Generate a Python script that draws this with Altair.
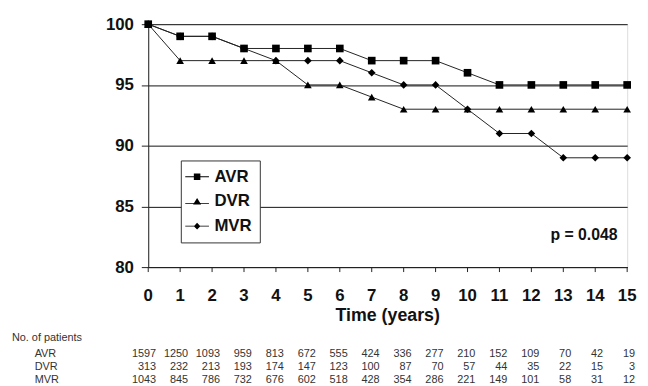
import altair as alt
import pandas as pd

years = list(range(16))
avr = [100, 99, 99, 98, 98, 98, 98, 97, 97, 97, 96, 95, 95, 95, 95, 95]
dvr = [100, 97, 97, 97, 97, 95, 95, 94, 93, 93, 93, 93, 93, 93, 93, 93]
mvr = [100, 99, 99, 98, 97, 97, 97, 96, 95, 95, 93, 91, 91, 89, 89, 89]
groups = ["AVR", "DVR", "MVR"]

n_avr = [1597, 1250, 1093, 959, 813, 672, 555, 424, 336, 277, 210, 152, 109, 70, 42, 19]
n_dvr = [313, 232, 213, 193, 174, 147, 123, 100, 87, 70, 57, 44, 35, 22, 15, 3]
n_mvr = [1043, 845, 786, 732, 676, 602, 518, 428, 354, 286, 221, 149, 101, 58, 31, 12]

p_text = ["p = 0.048"]
p_x = [14.7]
p_y = [82.6]
x_title = ["Time (years)"]

rows = []
for g, vals in zip(groups, [avr, dvr, mvr]):
    for t, v in zip(years, vals):
        rows.append({"year": t, "pct": v, "group": g})
df = pd.DataFrame(rows)

nrows = []
for g, vals in zip(groups, [n_avr, n_dvr, n_mvr]):
    for t, v in zip(years, vals):
        nrows.append({"year": t, "n": str(v), "group": g})
ndf = pd.DataFrame(nrows)

ydf = pd.DataFrame({"year": years, "lab": [str(y) for y in years]})

FONT = "Liberation Sans"
xscale = alt.Scale(domain=[0, 15], nice=False)
yscale = alt.Scale(domain=[80, 100], nice=False)

x_axis = alt.Axis(labels=False, ticks=False, title=None, grid=False,
                  domainColor="#222")
y_axis = alt.Axis(values=[80, 85, 90, 95, 100], title=None, grid=True,
                  gridColor="#111", gridWidth=1, tickSize=7,
                  labelFlush=False, labelOverlap=False,
                  tickColor="#222", domainColor="#222",
                  labelFont=FONT, labelFontWeight="bold",
                  labelFontSize=17, labelColor="#111", labelPadding=8)


def X(field="year"):
    return alt.X(f"{field}:Q", scale=xscale, axis=x_axis)


def Y(field="pct"):
    return alt.Y(f"{field}:Q", scale=yscale, axis=y_axis)


lines = alt.Chart(df).mark_line(color="#222", strokeWidth=1).encode(
    x=X(), y=Y(), detail="group:N")

points = alt.Chart(df).mark_point(filled=True, color="#000", opacity=1, size=60).encode(
    x=X(), y=Y(),
    shape=alt.Shape("group:N",
                    scale=alt.Scale(domain=groups,
                                    range=["square", "triangle-up", "diamond"]),
                    legend=None))

leg_paths = [
    "M-2,-0.07H2V0.07H-2Z M-0.55,-0.55H0.55V0.55H-0.55Z",
    "M-2,0.25H2V0.39H-2Z M0,-0.6L0.68,0.5H-0.68Z",
    "M-2,-0.07H2V0.07H-2Z M0,-0.55L0.55,0L0,0.55L-0.55,0Z",
]
legend_layer = alt.Chart(df).transform_filter("datum.year < 0").mark_point(
    filled=True, color="#000", opacity=1, size=144).encode(
    x=X(), y=Y(),
    shape=alt.Shape("group:N",
                    scale=alt.Scale(domain=groups, range=leg_paths),
                    legend=alt.Legend(title=None, orient="none", legendX=33,
                                      legendY=138, strokeColor="#333",
                                      fillColor="white", padding=8,
                                      symbolSize=144, symbolFillColor="#000",
                                      symbolStrokeColor="#000", symbolOpacity=1,
                                      symbolStrokeWidth=0, labelOffset=9,
                                      rowPadding=7, labelFont=FONT,
                                      labelFontWeight="bold", labelFontSize=17,
                                      labelColor="#111")))

# x-axis ticks and labels drawn from the years list through the x scale
xticks = alt.Chart(ydf).mark_rule(color="#222", strokeWidth=1).encode(
    x=X(), y=alt.value(246), y2=alt.value(251))
xlabels = alt.Chart(ydf).mark_text(baseline="middle", align="center", font=FONT,
                                   fontWeight="bold", fontSize=17,
                                   color="#111").encode(
    x=X(), y=alt.value(275), text="lab:N")
xtitle = alt.Chart(pd.DataFrame({"t": x_title})).mark_text(
    baseline="middle", align="center", font=FONT, fontWeight="bold",
    fontSize=18, color="#111").encode(
    x=alt.value(242.5), y=alt.value(296), text="t:N")

pdf = pd.DataFrame({"year": p_x, "pct": p_y, "t": p_text})
ptext = alt.Chart(pdf).mark_text(align="right", baseline="middle",
                                 font=FONT, fontWeight="bold",
                                 fontSize=16, color="#111").encode(
    x=X(), y=Y(), text="t:N")

row_y = {"AVR": 334, "DVR": 347, "MVR": 360}
table_layers = []
for g in groups:
    table_layers.append(
        alt.Chart(ndf).transform_filter(alt.datum.group == g).mark_text(
            align="right", baseline="middle", dx=8, font=FONT,
            fontSize=11, color="#333").encode(
            x=X(), y=alt.value(row_y[g]), text="n:N"))
    table_layers.append(
        alt.Chart(pd.DataFrame({"lab": [g]})).mark_text(
            align="left", baseline="middle", font=FONT,
            fontSize=11, color="#333").encode(
            x=alt.value(-115), y=alt.value(row_y[g]), text="lab:N"))
table_layers.append(
    alt.Chart(pd.DataFrame({"lab": ["No. of patients"]})).mark_text(
        align="left", baseline="middle", font=FONT,
        fontSize=11, color="#333").encode(
        x=alt.value(-138), y=alt.value(318), text="lab:N"))

chart = alt.layer(lines, points, legend_layer, xticks, xlabels, xtitle, ptext,
                  *table_layers).resolve_scale(
    shape="independent").resolve_legend(shape="independent").properties(
    width=485, height=246,
    autosize=alt.AutoSizeParams(type="none"),
    padding={"left": 142, "top": 14, "right": 13, "bottom": 118},
).configure_view(stroke="#888", strokeWidth=1).configure(background="white")

chart.save("out.html", embed_options={"renderer": "svg", "actions": False})
